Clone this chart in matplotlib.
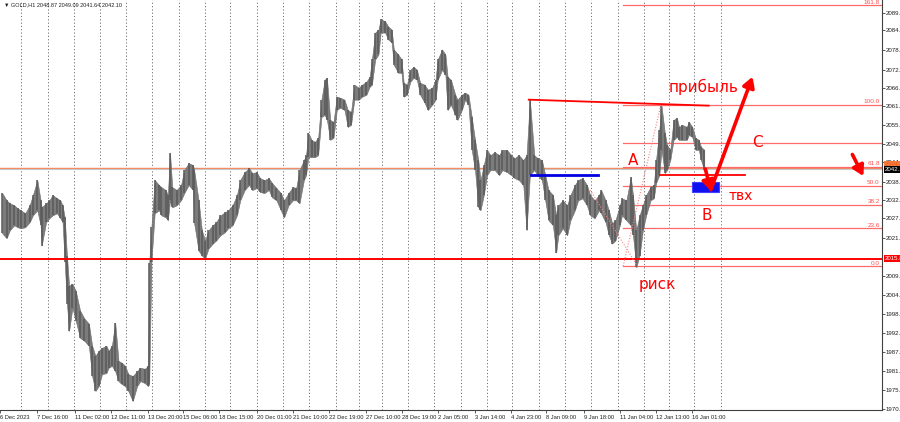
import matplotlib
matplotlib.use('Agg')
import matplotlib.pyplot as plt
import matplotlib.transforms as mtransforms

# ── Data: GOLD H1, bar index (hours from chart start), high / low ──
bars = [0, 4, 7, 11, 14, 17, 21, 25, 28, 32, 35, 36, 40, 43, 46, 50, 53, 55, 57, 59,
        61, 64, 67, 71, 75, 79, 82, 85, 88, 91, 95, 97, 100, 103, 106, 109, 112, 115, 119, 123,
        126, 130, 133, 134, 136, 139, 143, 145, 149, 151, 153, 155, 159, 163, 166, 170, 174, 175, 179, 182,
        185, 188, 192, 195, 199, 203, 206, 210, 214, 217, 221, 225, 228, 232, 235, 239, 243, 246, 250, 254,
        257, 261, 265, 268, 271, 275, 277, 279, 282, 285, 288, 291, 294, 296, 299, 302, 305, 308, 312, 315,
        318, 321, 325, 328, 332, 335, 337, 340, 343, 345, 349, 352, 355, 357, 361, 364, 366, 369, 372, 375,
        378, 381, 385, 388, 392, 395, 397, 401, 404, 406, 409, 413, 415, 419, 422, 425, 428, 431, 434, 436,
        439, 442, 445, 449, 453, 456, 460, 464, 467, 471, 475, 478, 481, 485, 488, 492, 495, 498, 502, 505,
        507, 511, 515, 518, 522, 525, 529, 533, 536, 540, 544, 546, 550, 553, 556, 559, 563, 565, 569, 573,
        575, 578, 581, 584, 587, 591, 594, 596, 599, 601, 604, 606, 609, 612, 615, 617, 620, 624, 626, 629,
        632, 635, 637, 640]
highs = [2035.0, 2032.8, 2031.9, 2031.3, 2030.4, 2029.8, 2028.9, 2031.3, 2034.4, 2038.9, 2032.8, 2030.7, 2031.9, 2032.8, 2034.4, 2033.4, 2032.8, 2031.3, 2027.7, 2016.2,
         2007.1, 2007.7, 2005.6, 1999.6, 1997.2, 1995.7, 1989.0, 1986.0, 1987.5, 1988.4, 1989.0, 1987.5, 1989.0, 1996.0, 1984.5, 1983.9, 1983.0, 1980.5, 1979.9, 1981.4,
         1982.4, 1982.1, 1983.0, 2013.8, 2024.7, 2038.9, 2037.4, 2036.8, 2035.9, 2034.4, 2047.0, 2036.8, 2035.9, 2037.4, 2041.9, 2044.0, 2043.4, 2041.9, 2032.8, 2023.8,
         2020.7, 2023.8, 2025.3, 2026.2, 2028.3, 2029.2, 2029.8, 2031.3, 2034.4, 2038.9, 2041.3, 2042.5, 2041.0, 2041.3, 2039.5, 2038.9, 2039.5, 2038.0, 2036.5, 2035.0,
         2032.8, 2035.0, 2036.8, 2036.5, 2041.9, 2044.9, 2046.4, 2053.1, 2051.0, 2050.4, 2051.6, 2063.1, 2069.1, 2069.7, 2057.0, 2056.4, 2064.0, 2063.7, 2063.1, 2060.0,
         2059.4, 2067.6, 2066.7, 2067.6, 2068.5, 2070.0, 2075.2, 2083.3, 2084.2, 2087.3, 2086.7, 2085.1, 2084.2, 2078.2, 2076.7, 2075.2, 2068.2, 2067.6, 2072.1, 2073.0,
         2072.1, 2068.2, 2067.6, 2066.1, 2066.7, 2069.1, 2075.2, 2078.2, 2076.7, 2070.0, 2069.1, 2064.6, 2063.1, 2064.6, 2065.2, 2064.6, 2057.9, 2051.0, 2044.9, 2038.9,
         2043.4, 2048.0, 2046.4, 2047.3, 2046.4, 2048.0, 2048.0, 2046.4, 2045.5, 2046.4, 2044.9, 2046.4, 2063.1, 2046.4, 2045.5, 2044.9, 2040.4, 2035.9, 2034.4, 2028.3,
         2031.3, 2032.8, 2031.3, 2034.4, 2037.4, 2038.9, 2039.5, 2037.4, 2034.4, 2032.8, 2034.4, 2035.9, 2032.8, 2029.8, 2025.9, 2026.8, 2031.3, 2033.4, 2032.8, 2039.8,
         2034.4, 2023.8, 2028.3, 2031.3, 2034.4, 2036.8, 2037.4, 2044.9, 2054.0, 2061.3, 2053.1, 2049.5, 2048.0, 2057.0, 2057.6, 2054.9, 2055.5, 2054.9, 2056.4, 2054.9,
         2051.6, 2051.0, 2048.9, 2048.0]
lows = [2022.9, 2021.4, 2023.8, 2025.3, 2024.7, 2024.4, 2024.7, 2026.2, 2028.3, 2029.8, 2025.3, 2019.2, 2026.2, 2027.4, 2028.3, 2028.9, 2027.4, 2026.2, 2014.1, 2001.7,
        1993.5, 2000.5, 1996.6, 1991.4, 1990.5, 1989.0, 1979.9, 1975.4, 1976.9, 1980.5, 1980.8, 1982.4, 1983.0, 1981.4, 1978.4, 1977.5, 1976.9, 1975.4, 1972.4, 1976.9,
        1978.4, 1977.8, 1976.9, 1977.5, 2014.1, 2028.9, 2029.8, 2028.3, 2027.7, 2026.8, 2032.8, 2030.7, 2031.3, 2032.8, 2035.0, 2037.4, 2035.9, 2025.9, 2017.7, 2016.2,
        2015.3, 2018.3, 2019.8, 2020.7, 2022.3, 2023.2, 2024.4, 2025.3, 2028.3, 2032.8, 2035.9, 2037.4, 2035.9, 2036.5, 2035.3, 2035.0, 2035.9, 2033.7, 2032.8, 2029.8,
        2027.7, 2031.3, 2032.8, 2032.8, 2031.9, 2038.9, 2040.4, 2045.8, 2045.8, 2045.8, 2046.4, 2057.9, 2058.5, 2057.0, 2051.0, 2051.6, 2060.0, 2060.7, 2060.0, 2054.9,
        2055.5, 2063.1, 2063.1, 2064.0, 2064.6, 2067.0, 2067.6, 2075.2, 2076.7, 2083.3, 2083.3, 2081.2, 2080.3, 2073.6, 2071.2, 2071.2, 2064.0, 2064.6, 2068.5, 2069.7,
        2069.1, 2064.6, 2062.2, 2060.0, 2061.6, 2063.1, 2069.1, 2072.1, 2070.6, 2060.0, 2061.6, 2058.5, 2057.0, 2060.0, 2063.1, 2061.6, 2048.0, 2041.9, 2030.7, 2029.8,
        2034.4, 2040.4, 2041.9, 2041.9, 2040.4, 2041.9, 2041.3, 2040.4, 2039.5, 2038.9, 2037.4, 2023.8, 2040.4, 2041.9, 2040.4, 2038.9, 2032.8, 2026.8, 2025.3, 2017.1,
        2022.3, 2024.4, 2022.3, 2026.8, 2029.8, 2032.8, 2033.4, 2031.3, 2028.3, 2027.4, 2029.8, 2028.9, 2026.2, 2022.3, 2019.8, 2020.7, 2025.3, 2028.3, 2026.8, 2025.3,
        2022.3, 2012.6, 2016.2, 2023.8, 2028.3, 2032.8, 2033.4, 2038.0, 2040.4, 2048.0, 2041.0, 2041.9, 2044.9, 2051.0, 2051.9, 2051.0, 2051.0, 2051.0, 2052.5, 2051.9,
        2048.0, 2048.0, 2044.9, 2041.9]

# axis labels
price_ticks = [2089.10, 2084.00, 2078.10, 2072.00, 2066.50, 2061.10, 2055.50, 2049.80, 2044.30,
               2038.40, 2032.90, 2027.60, 2021.50, 2009.90, 2004.30, 1998.50, 1992.80, 1987.10,
               1981.40, 1975.70, 1970.00]
time_ticks = [-2, 32, 66, 99, 133, 165, 198, 232, 265, 298, 332, 364, 397, 431, 464, 496, 530, 563, 596, 629]
time_labels = ['6 Dec 2023', '7 Dec 16:00', '11 Dec 02:00', '12 Dec 11:00', '13 Dec 20:00',
               '15 Dec 06:00', '18 Dec 15:00', '20 Dec 01:00', '21 Dec 10:00', '22 Dec 19:00',
               '27 Dec 10:00', '28 Dec 19:00', '2 Jan 05:00', '3 Jan 14:00', '4 Jan 23:00',
               '8 Jan 09:00', '9 Jan 18:00', '11 Jan 04:00', '12 Jan 13:00', '16 Jan 01:00']
day_separators = [17, 42, 65, 89, 113, 137, 161, 185, 208, 232, 256, 280, 304, 325, 346, 370,
                  394, 418, 442, 465, 489, 513, 537, 561, 585, 608, 631, 655]

# levels
bid = 2042.10
orange_level = 2042.6
support = 2015.0
fib_low, fib_high = 2013.0, 2061.5
fib_start = 566
fib_levels = [0.0, 23.6, 38.2, 50.0, 61.8, 76.4, 100.0, 161.8]
fib_labelled = [0.0, 23.6, 38.2, 50.0, 61.8, 100.0, 161.8]

RED = '#FF0000'
SMALL = dict(family='Liberation Sans', fontsize=4.4)

fig = plt.figure(figsize=(9, 4.22), dpi=100)
fig.patch.set_facecolor('white')
ax = fig.add_axes([0, 12 / 422, 882 / 900, 410 / 422])
ax.set_xlim(0, 802)
ax.set_ylim(1969.7, 2093.1)

# period separators
for b in day_separators:
    ax.axvline(b, color='#707070', lw=0.7, ls=(0, (1.2, 2.2)), zorder=1)

# price bars
ax.fill_between(bars, lows, highs, color='#7c7c7c', lw=0.4, ec='#6a6a6a', zorder=3)
ax.vlines(bars, lows, highs, color='#5a5a5a', lw=1.1, zorder=3)

# horizontal lines
ax.axhline(orange_level, color='#F4895F', lw=1.0, zorder=2)
ax.axhline(bid, color='#C8C8C8', lw=0.8, zorder=2)
ax.axhline(support, color=RED, lw=1.4, zorder=4)

# fibo grid
for lv in fib_levels:
    p = fib_low + (fib_high - fib_low) * lv / 100
    ax.plot([fib_start, 802], [p, p], color='#FF6B6B', lw=0.9, zorder=2)
    if lv in fib_labelled:
        ax.text(800, p + 0.15, f'{lv:.1f}', color='#FF5050', ha='right', va='bottom',
                zorder=5, family='Liberation Sans', fontsize=4.6)
ax.plot([fib_start, 600], [fib_low, 2060.9], color='#FF8080', lw=0.8, ls=(0, (1, 1.5)), zorder=4)
ax.plot([536, 579], [2035.9, fib_low], color='#FF8080', lw=0.8, ls=(0, (1, 1.5)), zorder=4)

# trend line through highs
ax.plot([480, 644], [2063.1, 2061.3], color=RED, lw=1.3, zorder=4)
# blue level and red level
ax.plot([482, 543], [2040.4, 2040.4], color='#0000E0', lw=2.0, zorder=4)
ax.plot([600, 677], [2040.4, 2040.4], color=RED, lw=1.3, zorder=4)
# entry zone
ax.add_patch(plt.Rectangle((629, 2035.3), 24, 3.0, facecolor='#1010F0',
                           edgecolor='#4040FF', lw=0.8, zorder=5))

# arrows
arr = dict(arrowstyle='-|>,head_length=0.6,head_width=0.35', color=RED, lw=2.6,
           shrinkA=0, shrinkB=0)
ax.annotate('', xy=(646, 2035.6), xytext=(641, 2042.2), arrowprops=arr, zorder=6)
ax.annotate('', xy=(684, 2070.0), xytext=(646, 2036.0), arrowprops=arr, zorder=6)
ax.annotate('', xy=(785, 2040.1), xytext=(775, 2046.6), arrowprops=arr, zorder=6)

# annotations
tk = dict(color=RED, ha='center', va='center', zorder=7)
ax.text(639, 2067.0, 'прибыль', fontsize=11, **tk)
ax.text(575, 2044.9, 'A', fontsize=11, **tk)
ax.text(688, 2050.1, 'C', fontsize=11, **tk)
ax.text(642, 2028.3, 'B', fontsize=11, **tk)
ax.text(673, 2034.1, 'твх', fontsize=10, **tk)
ax.text(597, 2007.6, 'риск', fontsize=11, **tk)

# header
ax.text(2, 2091.8, '▼ GOLD,H1 2048.87 2049.09 2041.64 2042.10', color='#202020',
        ha='left', va='center', zorder=7, family=['Liberation Sans', 'DejaVu Sans'], fontsize=4.0)

# axes look
for s in ['left', 'top']:
    ax.spines[s].set_visible(False)
for s in ['right', 'bottom']:
    ax.spines[s].set_color('#404040')
    ax.spines[s].set_linewidth(0.8)
ax.yaxis.tick_right()
ax.set_yticks(price_ticks)
ax.set_yticklabels([f'{v:.2f}' for v in price_ticks], **SMALL)
ax.set_xticks(time_ticks)
ax.set_xticklabels(time_labels, ha='left', family='Liberation Sans', fontsize=4.15)
ax.tick_params(axis='both', length=2, width=0.6, colors='#404040',
               labelcolor='#202020')
ax.tick_params(axis='y', pad=0.8)
ax.tick_params(axis='x', pad=1.5)

# price tags on the scale
trans = mtransforms.blended_transform_factory(ax.transAxes, ax.transData)
ax.text(1.003, 2043.6, '2044.30', transform=trans, color='#F06020',
        ha='left', va='center', clip_on=False,
        bbox=dict(boxstyle='square,pad=0.15', fc='#F47A40', ec='none'), zorder=8, **SMALL)
ax.text(1.003, bid, '2042.10', transform=trans, color='white',
        ha='left', va='center', clip_on=False,
        bbox=dict(boxstyle='square,pad=0.15', fc='black', ec='none'), zorder=9, **SMALL)
ax.text(1.003, support + 0.3, '2015.80', transform=trans, color='white',
        ha='left', va='center', clip_on=False,
        bbox=dict(boxstyle='square,pad=0.15', fc=RED, ec='none'), zorder=9, **SMALL)

fig.savefig('out.png', dpi=100)
